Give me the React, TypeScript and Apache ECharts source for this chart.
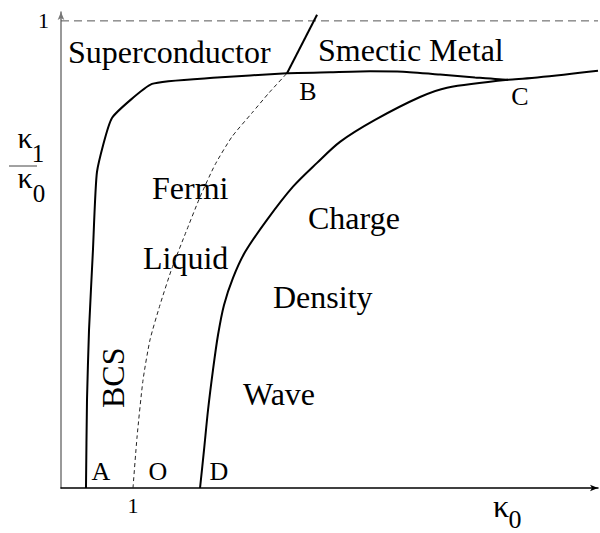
import React, { useEffect, useRef } from "react";
import * as echarts from "echarts";

// axis extents (data units: x = kappa0, y = kappa1/kappa0)
const X_MAX = 7.458;
const Y_MAX = 1.019;
const TICK_VALUES = [1];

// superconductor boundary: A -> knee -> B -> C -> right edge
const boundaryABC: [number, number][] = [
  [0.347, 0.0],
  [0.361, 0.188],
  [0.389, 0.338],
  [0.444, 0.51],
  [0.5, 0.677],
  [0.708, 0.792],
  [1.264, 0.865],
  [2.111, 0.878],
  [3.139, 0.888],
  [3.736, 0.89],
  [4.292, 0.892],
  [4.75, 0.891],
  [5.264, 0.885],
  [5.75, 0.879],
  [6.208, 0.874],
  [7.458, 0.893],
];

// charge density wave boundary: D -> C
const boundaryDC: [number, number][] = [
  [1.931, 0.0],
  [1.986, 0.081],
  [2.042, 0.167],
  [2.111, 0.253],
  [2.181, 0.328],
  [2.264, 0.392],
  [2.389, 0.45],
  [2.556, 0.505],
  [2.861, 0.574],
  [3.222, 0.645],
  [3.556, 0.696],
  [3.875, 0.741],
  [4.361, 0.788],
  [4.986, 0.837],
  [5.361, 0.857],
  [6.208, 0.874],
];

// Fermi liquid crossover (dashed): O -> B
const crossoverOB: [number, number][] = [
  [1.0, 0.0],
  [1.056, 0.109],
  [1.139, 0.231],
  [1.236, 0.317],
  [1.375, 0.392],
  [1.542, 0.471],
  [1.736, 0.548],
  [1.931, 0.623],
  [2.139, 0.692],
  [2.375, 0.752],
  [2.653, 0.803],
  [2.889, 0.846],
  [3.139, 0.888],
];

// superconductor / smectic metal boundary above B
const boundaryBTop: [number, number][] = [
  [3.139, 0.888],
  [3.556, 1.013],
];

const unitLine: [number, number][] = [
  [0, 1],
  [X_MAX, 1],
];

const SERIF = '"Liberation Serif", "Times New Roman", serif';

function txt(text: string, x: number, y: number, size: number, extra: any = {}) {
  return {
    type: "text",
    x,
    y,
    silent: true,
    ...extra,
    style: {
      text,
      fill: "#000",
      font: `${size}px ${SERIF}`,
      align: extra.align || "left",
      verticalAlign: "middle",
      textAlign: extra.align || "left",
      textVerticalAlign: "middle",
    },
  };
}

export default function App() {
  const ref = useRef<HTMLDivElement>(null);
  useEffect(() => {
    if (!ref.current) return;
    const chart = echarts.init(ref.current, null, { renderer: "svg" });
    const solid = { color: "#000", width: 2 };
    chart.setOption({
      animation: false,
      backgroundColor: "#fff",
      grid: { left: 61, top: 12, width: 537, height: 476, containLabel: false },
      xAxis: {
        type: "value",
        min: 0,
        max: X_MAX,
        interval: 1,
        splitLine: { show: false },
        axisTick: { show: false },
        axisLine: {
          show: true,
          onZero: false,
          lineStyle: { color: "#000", width: 1.5 },
          symbol: ["none", "arrow"],
          symbolSize: [5, 8],
        },
        axisLabel: {
          showMaxLabel: false,
          formatter: (v: number) => (TICK_VALUES.includes(v) ? String(v) : ""),
          fontFamily: SERIF,
          fontSize: 22,
          color: "#000",
          margin: 6,
        },
      },
      yAxis: {
        type: "value",
        min: 0,
        max: Y_MAX,
        interval: 1,
        splitLine: { show: false },
        axisTick: { show: false },
        axisLine: {
          show: true,
          onZero: false,
          lineStyle: { color: "#777", width: 1.5 },
          symbol: ["none", "arrow"],
          symbolSize: [5, 8],
        },
        axisLabel: {
          showMaxLabel: false,
          formatter: (v: number) => (TICK_VALUES.includes(v) ? String(v) : ""),
          fontFamily: SERIF,
          fontSize: 22,
          color: "#000",
          margin: 12,
        },
      },
      series: [
        {
          type: "line",
          data: unitLine,
          showSymbol: false,
          silent: true,
          lineStyle: { color: "#555", width: 1, type: [8, 5] },
        },
        {
          type: "line",
          data: boundaryABC,
          showSymbol: false,
          silent: true,
          smooth: 0.15,
          lineStyle: solid,
        },
        {
          type: "line",
          data: boundaryDC,
          showSymbol: false,
          silent: true,
          smooth: 0.3,
          lineStyle: solid,
        },
        {
          type: "line",
          data: crossoverOB,
          showSymbol: false,
          silent: true,
          smooth: 0.2,
          lineStyle: { color: "#222", width: 1, type: [4, 3] },
        },
        {
          type: "line",
          data: boundaryBTop,
          showSymbol: false,
          silent: true,
          lineStyle: solid,
        },
      ],
      graphic: [
        txt("Superconductor", 68, 52, 32),
        txt("Smectic Metal", 318, 50, 32),
        txt("Fermi", 152, 188, 32),
        txt("Liquid", 143, 258, 32),
        txt("Charge", 308, 218, 32),
        txt("Density", 273, 297, 32),
        txt("Wave", 243, 394, 32),
        txt("BCS", 113, 408, 32, { rotation: Math.PI / 2 }),
        txt("A", 101, 471, 26, { align: "center" }),
        txt("O", 158, 471, 26, { align: "center" }),
        txt("D", 219, 471, 26, { align: "center" }),
        txt("B", 308, 91, 26, { align: "center" }),
        txt("C", 520, 96, 26, { align: "center" }),
        // x-axis name: kappa_0
        txt("κ", 501, 506, 32, { align: "center" }),
        txt("0", 515, 519, 26, { align: "center" }),
        // y-axis name: kappa_1 / kappa_0
        txt("κ", 25, 137, 30, { align: "center" }),
        txt("1", 38, 153, 25, { align: "center" }),
        {
          type: "line",
          silent: true,
          shape: { x1: 9, y1: 166, x2: 37, y2: 166 },
          style: { stroke: "#444", lineWidth: 1 },
        },
        txt("κ", 25, 177, 30, { align: "center" }),
        txt("0", 39, 193, 25, { align: "center" }),
      ],
    });
    return () => chart.dispose();
  }, []);
  return (
    <div
      ref={ref}
      style={{ position: "fixed", left: 0, top: 0, width: 600, height: 533, background: "#fff" }}
    />
  );
}
